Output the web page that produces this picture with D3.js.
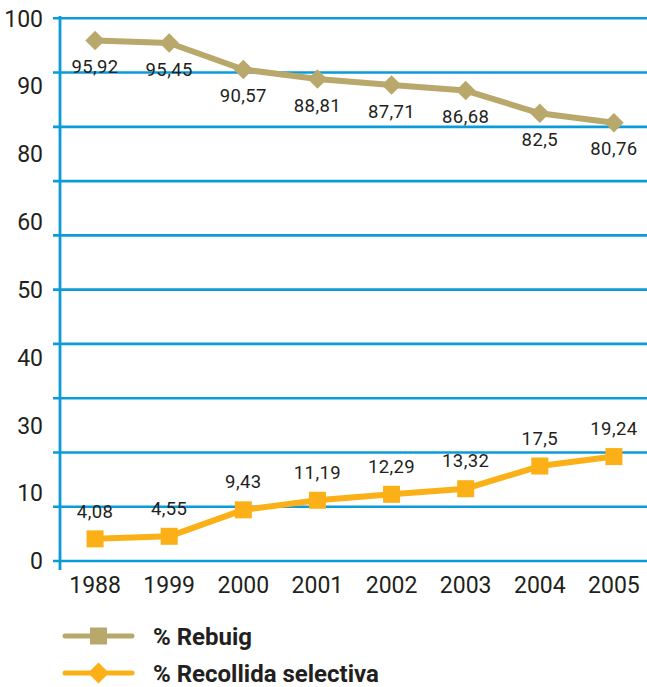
<!DOCTYPE html>
<html>
<head>
<meta charset="utf-8">
<script src="https://cdn.jsdelivr.net/npm/d3@7"></script>
<style>
  html, body { margin: 0; padding: 0; background: #fff; }
  svg { display: block; }
  text { font-family: Roboto, "DejaVu Sans", sans-serif; fill: #231f20; }
</style>
</head>
<body>
<script>
// Waste treatment percentages per year
const years = ["1988", "1999", "2000", "2001", "2002", "2003", "2004", "2005"];
const rebuig = [95.92, 95.45, 90.57, 88.81, 87.71, 86.68, 82.5, 80.76];
const recollida = [4.08, 4.55, 9.43, 11.19, 12.29, 13.32, 17.5, 19.24];
const yTickLabels = ["100", "90", "80", "60", "50", "40", "30", "10", "0"];
const gridValues = [0, 10, 20, 30, 40, 50, 60, 70, 80, 90, 100];
const legendNames = ["% Rebuig", "% Recollida selectiva"];

const W = 647, H = 687;
const blue = "#0a9bd8";
const khaki = "#b9a86b";
const orange = "#fbb017";

const svg = d3.select("body").append("svg").attr("width", W).attr("height", H);

const x = d3.scaleBand().domain(years).range([58, 651]);
const y = d3.scaleLinear().domain([0, 100]).range([561, 18.3]);
const yLab = d3.scalePoint().domain(yTickLabels).range([18.3, 561]);
const cx = d => x(d) + x.bandwidth() / 2;
const fmt = v => String(v).replace(".", ",");

// grid
svg.append("g").selectAll("line").data(gridValues).join("line")
  .attr("x1", 53).attr("x2", W)
  .attr("y1", d => y(d)).attr("y2", d => y(d))
  .attr("stroke", blue).attr("stroke-width", 2.6);

// vertical axis line
svg.append("line")
  .attr("x1", 60).attr("x2", 60).attr("y1", 16).attr("y2", 570)
  .attr("stroke", blue).attr("stroke-width", 2.8);

// y labels
svg.append("g").selectAll("text").data(yTickLabels).join("text")
  .attr("x", 43).attr("y", d => yLab(d))
  .attr("dy", "0.36em")
  .attr("text-anchor", "end")
  .attr("font-size", 23)
  .text(d => d);

// x labels
svg.append("g").selectAll("text").data(years).join("text")
  .attr("x", d => cx(d)).attr("y", 585)
  .attr("dy", "0.36em")
  .attr("text-anchor", "middle")
  .attr("font-size", 23)
  .text(d => d);

const line = d3.line().x((d, i) => cx(years[i])).y(d => y(d));

// Rebuig series
svg.append("path").datum(rebuig)
  .attr("d", line).attr("fill", "none")
  .attr("stroke", khaki).attr("stroke-width", 6).attr("stroke-linejoin", "round");
svg.append("g").selectAll("path").data(rebuig).join("path")
  .attr("d", d3.symbol(d3.symbolSquare, 190))
  .attr("transform", (d, i) => `translate(${cx(years[i])},${y(d)}) rotate(45)`)
  .attr("fill", khaki);
svg.append("g").selectAll("text").data(rebuig).join("text")
  .attr("x", (d, i) => cx(years[i]))
  .attr("y", d => y(d) + 26)
  .attr("dy", "0.36em")
  .attr("text-anchor", "middle")
  .attr("font-size", 18.5)
  .attr("letter-spacing", 0.4)
  .text(fmt);

// Recollida selectiva series
svg.append("path").datum(recollida)
  .attr("d", line).attr("fill", "none")
  .attr("stroke", orange).attr("stroke-width", 6).attr("stroke-linejoin", "round");
svg.append("g").selectAll("rect").data(recollida).join("rect")
  .attr("x", (d, i) => cx(years[i]) - 8.5)
  .attr("y", d => y(d) - 8.5)
  .attr("width", 17).attr("height", 17)
  .attr("fill", orange);
svg.append("g").selectAll("text").data(recollida).join("text")
  .attr("x", (d, i) => cx(years[i]))
  .attr("y", d => y(d) - 28)
  .attr("dy", "0.36em")
  .attr("text-anchor", "middle")
  .attr("font-size", 18.5)
  .attr("letter-spacing", 0.4)
  .text(fmt);

// legend
const leg = svg.append("g");
const rows = [
  { name: legendNames[0], color: khaki, shape: "square", y: 636 },
  { name: legendNames[1], color: orange, shape: "diamond", y: 673 }
];
rows.forEach(r => {
  leg.append("line")
    .attr("x1", 65).attr("x2", 132).attr("y1", r.y).attr("y2", r.y)
    .attr("stroke", r.color).attr("stroke-width", 5).attr("stroke-linecap", "round");
  if (r.shape === "square") {
    leg.append("rect").attr("x", 90).attr("y", r.y - 8.5)
      .attr("width", 17).attr("height", 17).attr("fill", r.color);
  } else {
    leg.append("path").attr("d", d3.symbol(d3.symbolSquare, 220))
      .attr("transform", `translate(98.5,${r.y}) rotate(45)`).attr("fill", r.color);
  }
  leg.append("text")
    .attr("x", 153).attr("y", r.y).attr("dy", "0.36em")
    .attr("font-size", 24).attr("font-weight", "bold")
    .text(r.name);
});
</script>
</body>
</html>
